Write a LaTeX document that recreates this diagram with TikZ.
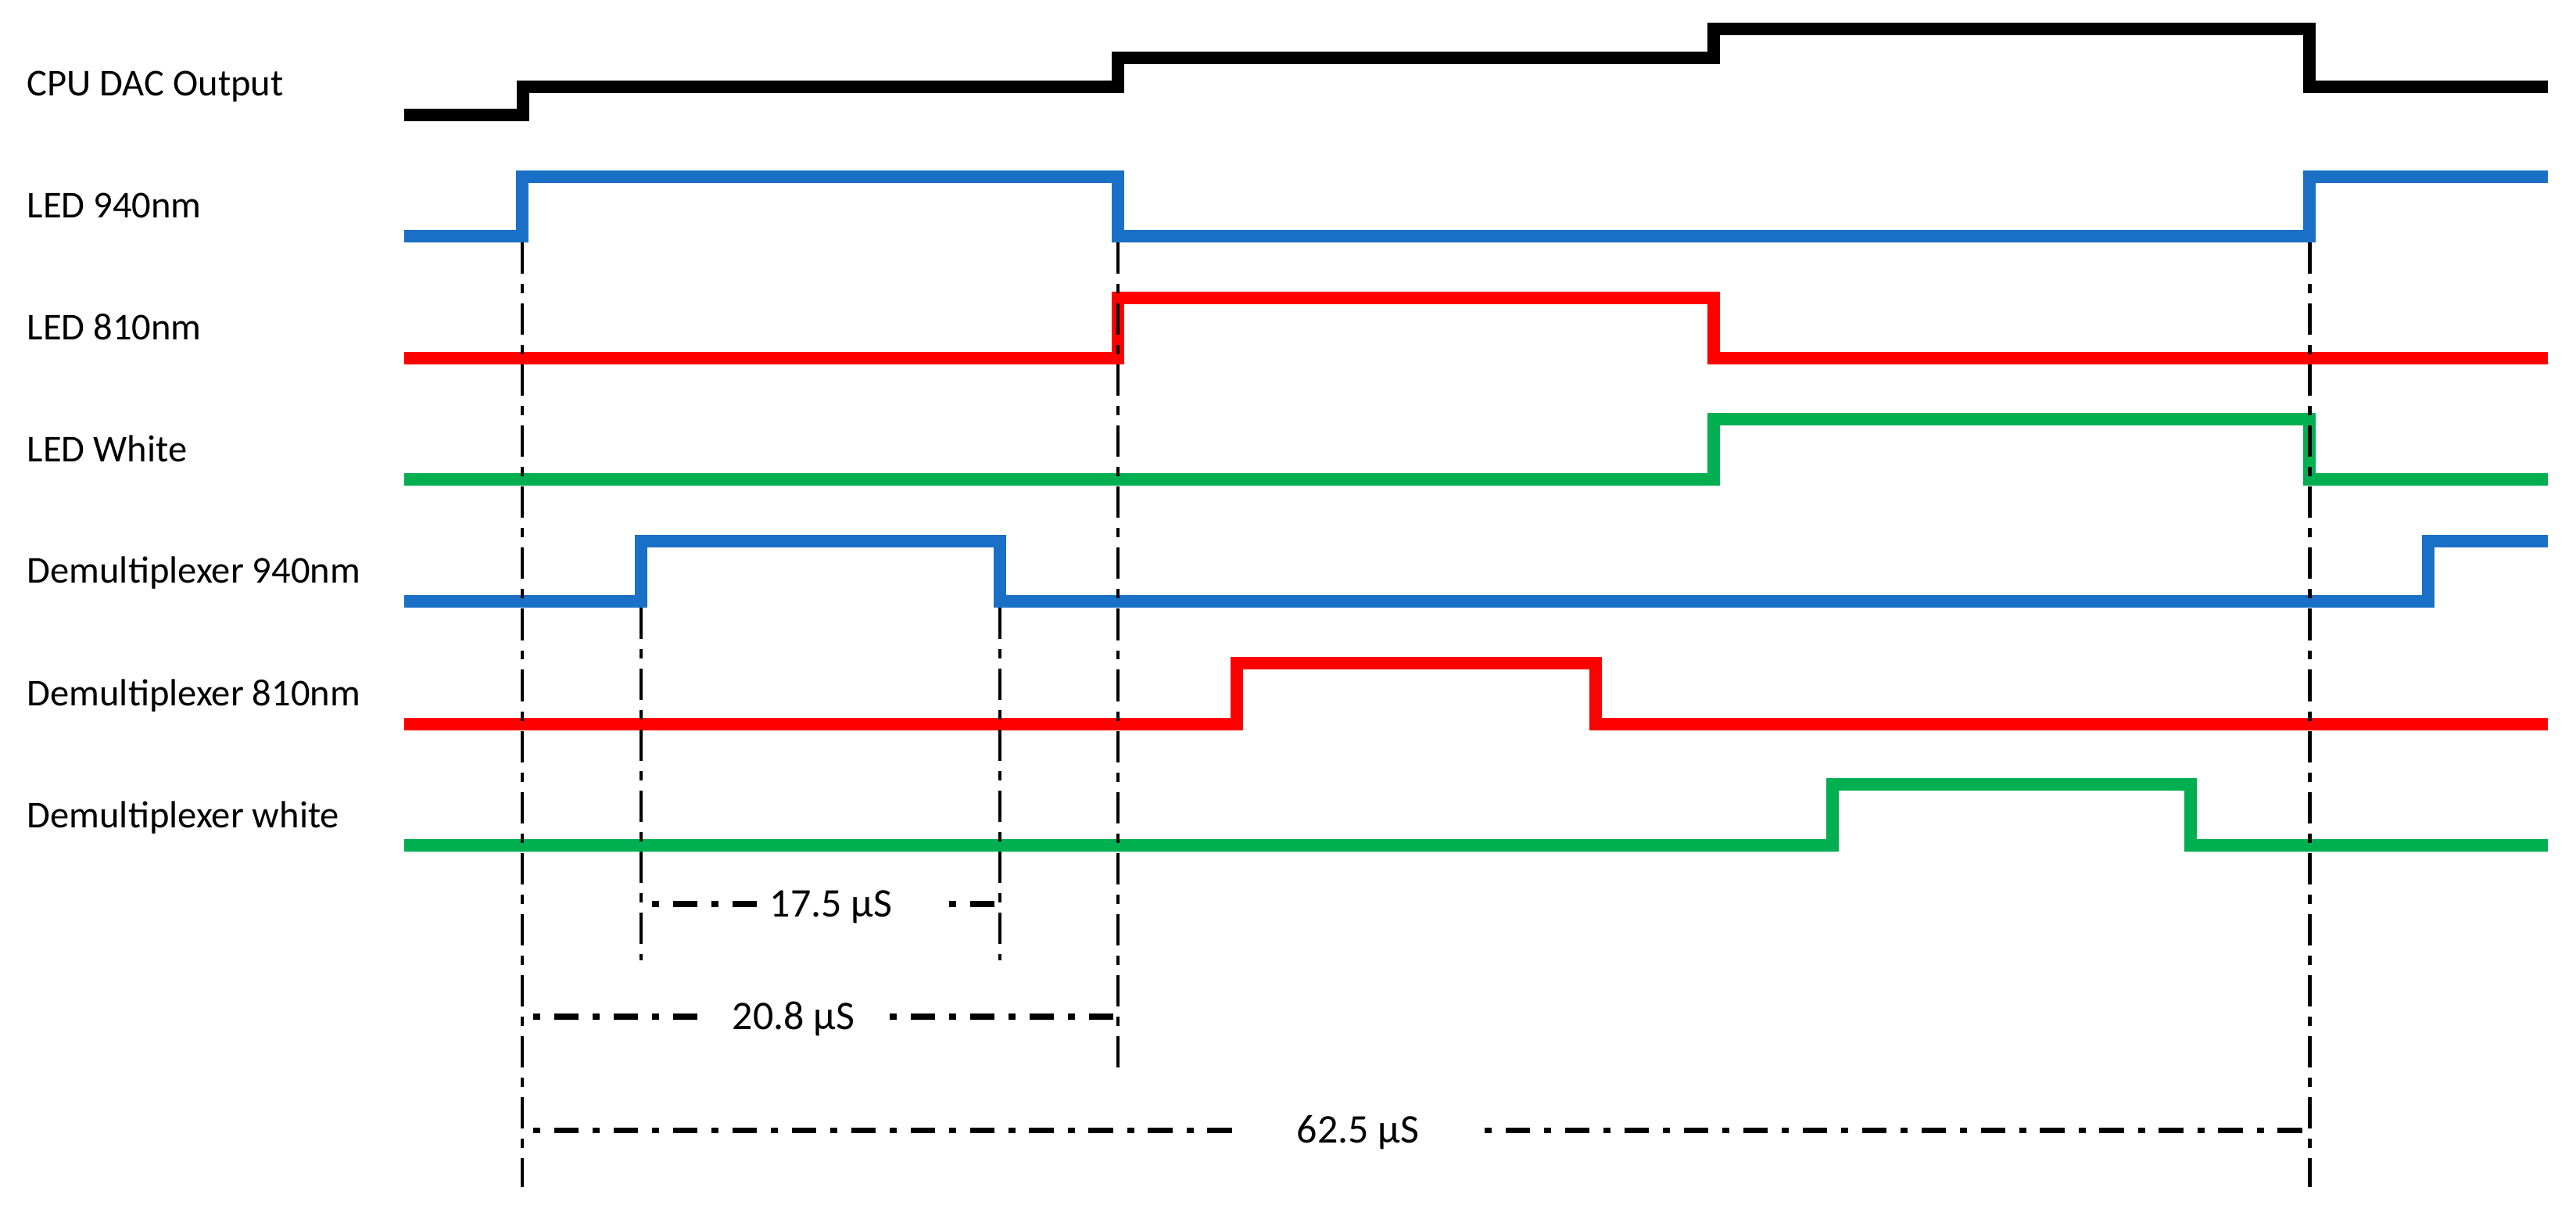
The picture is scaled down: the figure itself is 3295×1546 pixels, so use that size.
\documentclass[tikz,border=0pt]{standalone}
\usepackage{fontspec}
\setmainfont{Carlito}
\definecolor{sigblue}{HTML}{1A6FC6}
\definecolor{sigred}{HTML}{FF0000}
\definecolor{siggreen}{HTML}{00B050}
\begin{document}
\begin{tikzpicture}[x=0.01cm,y=-0.01cm,
  sig/.style={line width=4.3pt, line join=miter, line cap=butt},
  guide/.style={line width=1.4pt, dash pattern=on 11.4pt off 3.7pt on 3.4pt off 3.7pt},
  dim/.style={line width=2pt, dash pattern=on 2.6pt off 5pt on 9pt off 5pt, dash phase=-4pt},
  lab/.style={anchor=base west, inner sep=0pt, font=\fontsize{13.8pt}{16pt}\selectfont},
  tlab/.style={anchor=base, inner sep=0pt, font=\fontsize{14.8pt}{17pt}\selectfont}]
\useasboundingbox (0,0) rectangle (3295,1546);

% labels
\node[lab] (lcpu) at (34,123) {CPU DAC Output};
\node[lab] (l940) at (34,279) {LED 940nm};
\node[lab] (l810) at (34,435) {LED 810nm};
\node[lab] (lwh)  at (34,590) {LED White};
\node[lab] (ld940) at (34,745) {Demultiplexer 940nm};
\node[lab] (ld810) at (34,902) {Demultiplexer 810nm};
\node[lab] (ldwh)  at (34,1058) {Demultiplexer white};

% signals
\draw[sig, black] (517,147) -| (669,111) -| (1430,74) -| (2192,37) -| (2954,111) -- (3259,111);
\draw[sig, sigblue] (517,302) -| (668,226) -| (1430,302) -| (2954,226) -- (3259,226);
\draw[sig, sigred] (517,458) -| (1430,381) -| (2192,458) -- (3259,458);
\draw[sig, siggreen] (517,613) -| (2192,536) -| (2954,613) -- (3259,613);
\draw[sig, sigblue] (517,769) -| (820,692) -| (1279,769) -| (3106,692) -- (3259,692);
\draw[sig, sigred] (517,926) -| (1582,848) -| (2041,926) -- (3259,926);
\draw[sig, siggreen] (517,1081) -| (2344,1003) -| (2802,1081) -- (3259,1081);

% guide coordinates
\coordinate (a1) at (668,310);  \coordinate (a2) at (668,1518);
\coordinate (b1) at (1430,310); \coordinate (b2) at (1430,1373);
\coordinate (c1) at (2954,310); \coordinate (c2) at (2954,1518);
\coordinate (d1) at (820,777);  \coordinate (d2) at (820,1228);
\coordinate (e1) at (1279,777); \coordinate (e2) at (1279,1228);
\draw[guide] (a1) -- (a2);
\draw[guide] (b1) -- (b2);
\draw[guide] (c1) -- (c2);
\draw[guide] (d1) -- (d2);
\draw[guide] (e1) -- (e2);

% dimensions
\node[tlab] (t175) at (1063,1172) {17.5 µS};
\draw[dim] (820,1156) -- (974,1156);
\draw[dim] (1200,1156) -- (1279,1156);
\node[tlab] (t208) at (1015,1316) {20.8 µS};
\draw[dim] (668,1300) -- (898,1300);
\draw[dim] (1124,1300) -- (1430,1300);
\node[tlab] (t625) at (1737,1461) {62.5 µS};
\draw[dim] (668,1445) -- (1586,1445);
\draw[dim] (1885,1445) -- (2954,1445);
\end{tikzpicture}
\end{document}
